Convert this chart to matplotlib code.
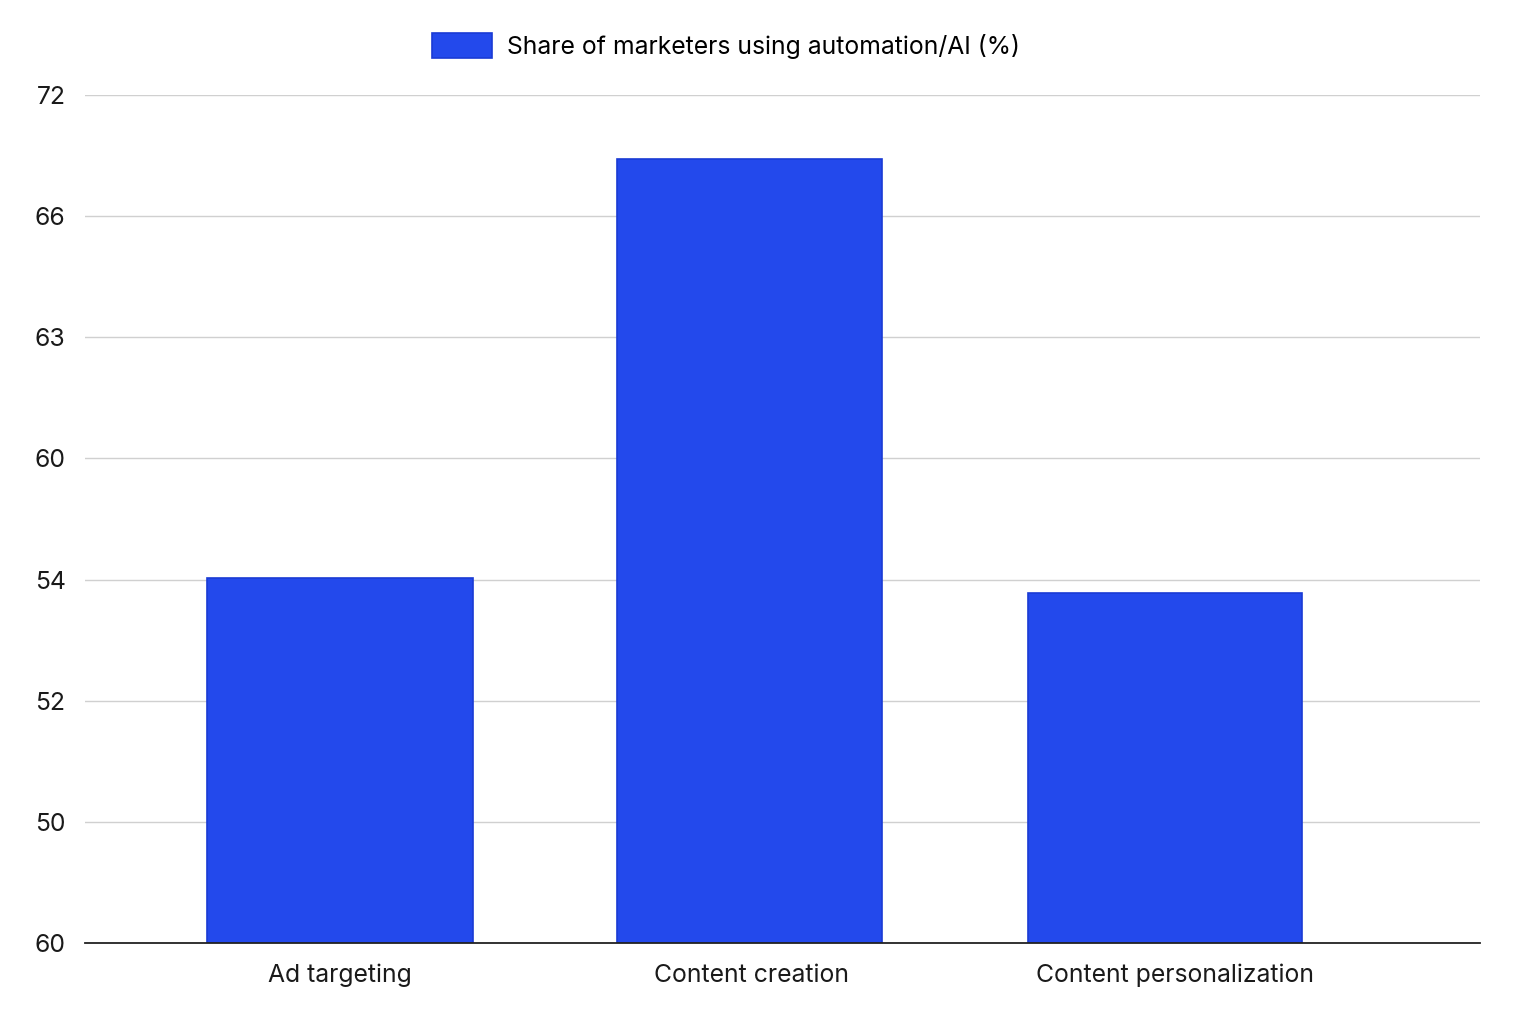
import matplotlib.pyplot as plt

# Data (bar heights in tick-slot units, labels as printed)
categories = ['Ad targeting', 'Content creation', 'Content personalization']
heights = [3.01, 6.47, 2.89]
bar_centers = [0.0, 0.995, 2.005]
bar_widths = [0.645, 0.645, 0.665]
ytick_pos = [0, 1, 2, 3, 4, 5, 6, 7]
ytick_labels = ['60', '50', '52', '54', '60', '63', '66', '72']
series_name = 'Share of marketers using automation/AI (%)'

plt.rcParams['font.family'] = ['Inter', 'DejaVu Sans']
fs = 17.8

fig = plt.figure(figsize=(15.36, 10.24), dpi=100)
# axes spans x 85..1480, y 95..943 px
ax = fig.add_axes([85/1536, 1 - 943/1024, (1480-85)/1536, (943-95)/1024])

ax.bar(bar_centers, heights, width=bar_widths, color='#2349ec',
       edgecolor='#1a3bd4', linewidth=1.2, label=series_name, zorder=3)

ax.set_xlim(-0.62, 2.77)
ax.set_ylim(0, 7)
ax.set_yticks(ytick_pos)
ax.set_yticklabels(ytick_labels)
ax.set_xticks([0.0, 1.0, 2.03])
ax.set_xticklabels(categories)

ax.grid(axis='y', color='#d0d0d0', linewidth=1, zorder=0)
ax.set_axisbelow(True)
for s in ['top', 'right', 'left']:
    ax.spines[s].set_visible(False)
ax.spines['bottom'].set_color('#222222')
ax.spines['bottom'].set_linewidth(1.3)
ax.spines['bottom'].set_zorder(4)

ax.tick_params(axis='y', length=0, pad=14, labelsize=fs, labelcolor='#1a1a1a')
ax.tick_params(axis='x', length=0, pad=15, labelsize=fs, labelcolor='#1a1a1a')

fig.legend(loc='center', bbox_to_anchor=(726/1536, 1 - 46/1024), frameon=False,
           fontsize=fs, handlelength=2.45, handleheight=1.15, handletextpad=0.6)

fig.savefig('out.png', dpi=100, facecolor='white')
